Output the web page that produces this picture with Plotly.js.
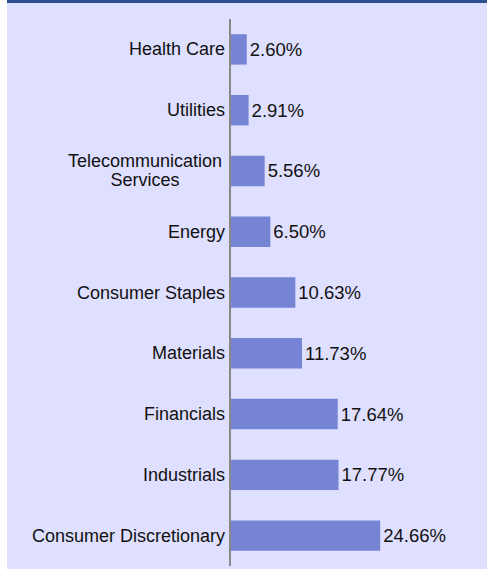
<!DOCTYPE html>
<html>
<head>
<meta charset="utf-8">
<script src="https://cdn.plot.ly/plotly-3.0.1.min.js"></script>
<style>html,body{margin:0;padding:0;background:#fff;}#chart{width:487px;height:572px;}</style>
</head>
<body>
<div id="chart"></div>
<script>
const categories = ["Health Care","Utilities","Telecommunication<br>Services","Energy","Consumer Staples","Materials","Financials","Industrials","Consumer Discretionary"];
const values = [2.60, 2.91, 5.56, 6.50, 10.63, 11.73, 17.64, 17.77, 24.66];
const valueLabels = ["2.60%","2.91%","5.56%","6.50%","10.63%","11.73%","17.64%","17.77%","24.66%"];

const W = 487, H = 572;
const mL = 231, mR = 14, mT = 19, mB = 6;
const pw = W - mL - mR, ph = H - mT - mB;
const FONT = 'Liberation Sans';

const trace = {
  type: 'bar',
  orientation: 'h',
  y: categories,
  x: values,
  text: valueLabels,
  textposition: 'outside',
  cliponaxis: false,
  textfont: {family: FONT, size: 18.5, color: '#111'},
  marker: {color: '#7585d3'},
  hoverinfo: 'none'
};

const annotations = [];
categories.forEach(c => {
  const lines = c.split('<br>');
  const n = lines.length, lh = 19;
  lines.forEach((ln, i) => {
    annotations.push({
      xref: 'paper', yref: 'y', x: 0, y: c,
      xanchor: 'right', yanchor: 'middle', xshift: -4,
      yshift: ((n - 1) / 2 - i) * lh,
      text: ln, showarrow: false, align: 'center', width: n > 1 ? 160 : null,
      font: {family: FONT, size: 18, color: '#111'}
    });
  });
});

const px = (v) => (v - mL) / pw;
const py = (v) => 1 - (v - mT) / ph;

const layout = {
  width: W, height: H,
  margin: {l: mL, r: mR, t: mT, b: mB, pad: 0},
  paper_bgcolor: '#dfdfff',
  plot_bgcolor: 'rgba(0,0,0,0)',
  showlegend: false,
  bargap: 0.5,
  xaxis: {range: [0, 40], visible: false, fixedrange: true},
  yaxis: {
    autorange: 'reversed', showticklabels: false, ticks: '',
    showline: true, linecolor: '#888', linewidth: 2, showgrid: false, zeroline: false,
    fixedrange: true
  },
  annotations: annotations,
  shapes: [
    {type: 'rect', xref: 'paper', yref: 'paper', x0: px(0), x1: px(W), y0: py(0), y1: py(3), fillcolor: '#2e5090', line: {width: 0}, layer: 'below'},
    {type: 'rect', xref: 'paper', yref: 'paper', x0: px(0), x1: px(7), y0: py(0), y1: py(H), fillcolor: '#ffffff', line: {width: 0}, layer: 'below'},
    {type: 'rect', xref: 'paper', yref: 'paper', x0: px(0), x1: px(W), y0: py(569), y1: py(H), fillcolor: '#ffffff', line: {width: 0}, layer: 'below'}
  ]
};

Plotly.newPlot('chart', [trace], layout, {displayModeBar: false, staticPlot: true});
</script>
</body>
</html>
